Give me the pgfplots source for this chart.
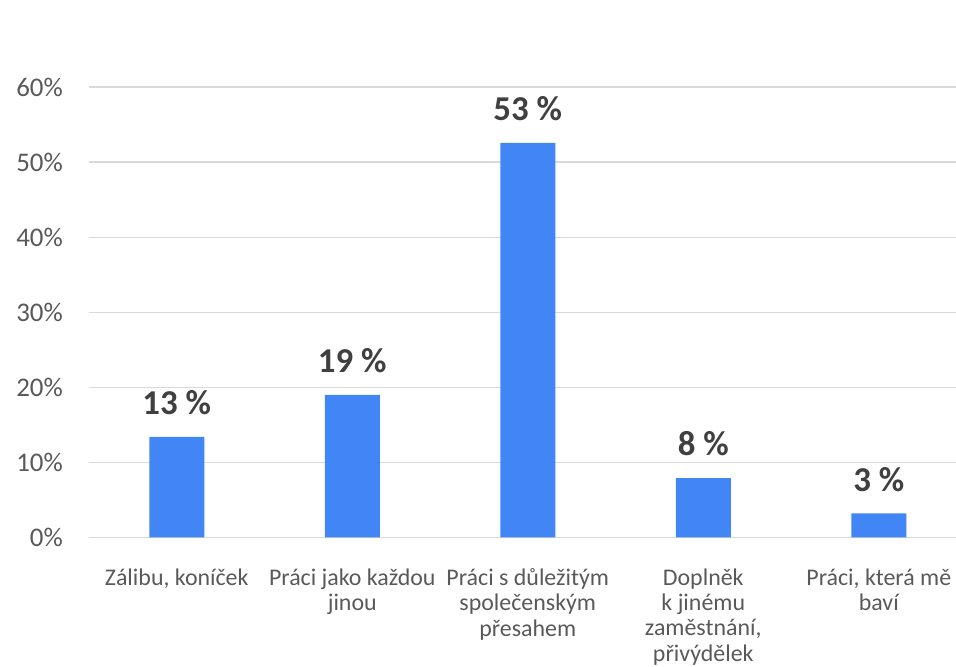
\documentclass[border=0pt]{standalone}
\usepackage{pgfplots}
\pgfplotsset{compat=1.18}
\usepackage{fontspec}
\setmainfont{Carlito}
\definecolor{barblue}{HTML}{4285F4}
\definecolor{ticktext}{HTML}{595959}
\definecolor{labtext}{HTML}{404040}
\definecolor{gridc}{HTML}{D9D9D9}
\begin{document}
\begin{tikzpicture}
\begin{axis}[
  scale only axis,
  width=867bp, height=450bp,
  xmin=-0.5, xmax=4.44,
  ymin=0, ymax=60,
  axis line style={draw=none},
  major tick length=0pt,
  ymajorgrids,
  grid style={color=gridc, line width=1.6bp},
  ytick={0,10,20,30,40,50,60},
  yticklabels={0\%,10\%,20\%,30\%,40\%,50\%,60\%},
  yticklabel style={font=\fontsize{27}{29}\selectfont, color=ticktext, anchor=east, inner sep=0pt, xshift=-26bp},
  xtick={0,1,2,3,4},
  xticklabels={{Zálibu, koníček},{Práci jako každou\\jinou},{Práci s důležitým\\společenským\\přesahem},{Doplněk\\k jinému\\zaměstnání,\\přivýdělek},{Práci, která mě\\baví}},
  xticklabel style={font=\fontsize{24}{25.5}\selectfont, color=ticktext, align=center, anchor=north, inner sep=0pt, yshift=-31bp},
  ybar, bar width=55bp,
  nodes near coords={\pgfmathprintnumber[fixed,precision=0,assume math mode=true]{\pgfplotspointmeta}~\%},
  nodes near coords style={font=\bfseries\fontsize{35}{37}\selectfont, color=labtext, anchor=south, inner sep=0pt, text depth=0pt, yshift=22bp},
  point meta=explicit,
  clip=false,
]
\addplot[fill=barblue, draw=none] coordinates {(0,13.4) [13] (1,19.0) [19] (2,52.6) [53] (3,7.9) [8] (4,3.2) [3]};
\end{axis}
\pgfresetboundingbox
\useasboundingbox (-89bp,-129.5bp) rectangle (867bp,537.3bp);
\end{tikzpicture}
\end{document}
